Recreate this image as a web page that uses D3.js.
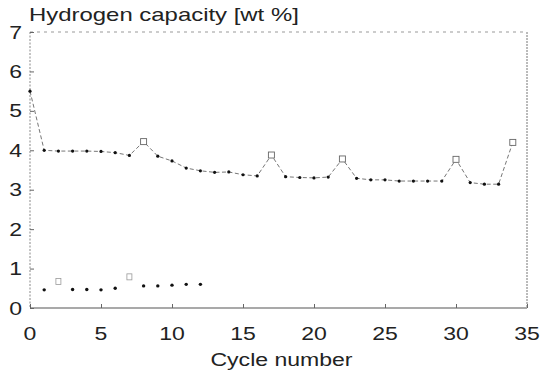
<!DOCTYPE html>
<html><head><meta charset="utf-8">
<script src="https://cdn.jsdelivr.net/npm/d3@7"></script>
<style>
html,body{margin:0;padding:0;background:#fff;}
text{font-family:"Liberation Sans",Arial,sans-serif;fill:#222;}
</style></head>
<body><svg id="c" width="548" height="372"></svg>
<script>
const cycles = d3.range(0, 35);
const capacity = [5.5, 4.0, 3.98, 3.98, 3.98, 3.97, 3.94, 3.87, 4.22, 3.85, 3.73, 3.55, 3.48, 3.44, 3.45, 3.38, 3.35, 3.88, 3.33, 3.31, 3.30, 3.32, 3.78, 3.29, 3.25, 3.25, 3.22, 3.22, 3.22, 3.22, 3.77, 3.18, 3.14, 3.14, 4.2];
const peakCycles = [8, 17, 22, 30, 34];
const lowCycles = [1, 2, 3, 4, 5, 6, 7, 8, 9, 10, 11, 12];
const lowCapacity = [0.46, 0.67, 0.47, 0.47, 0.46, 0.5, 0.79, 0.56, 0.56, 0.58, 0.6, 0.6];
const lowPeakCycles = [2, 7];
const xTicks = [0, 5, 10, 15, 20, 25, 30, 35];
const yTicks = [0, 1, 2, 3, 4, 5, 6, 7];
const yLabel = "Hydrogen capacity [wt %]";
const xLabel = "Cycle number";

const svg = d3.select("#c");
const L = 30, R = 527, T = 32, B = 308;
const x = d3.scaleLinear().domain([0, 35]).range([L, R]);
const y = d3.scaleLinear().domain([0, 7]).range([B, T]);
const SX = 1.28;

// frame
const frame = svg.append("g").attr("fill", "none");
frame.append("line").attr("x1", L).attr("x2", R).attr("y1", B).attr("y2", B).attr("stroke", "#555").attr("stroke-width", 1.1);
frame.append("line").attr("x1", L).attr("x2", L).attr("y1", T).attr("y2", B).attr("stroke", "#888").attr("stroke-dasharray", "2,1.5");
frame.append("line").attr("x1", R).attr("x2", R).attr("y1", T).attr("y2", B).attr("stroke", "#777").attr("stroke-dasharray", "2,1");
frame.append("line").attr("x1", L).attr("x2", R).attr("y1", T).attr("y2", T).attr("stroke", "#999").attr("stroke-dasharray", "3,4");

// axes (inward ticks)
const xAxis = svg.append("g").attr("transform", `translate(0,${B})`)
  .call(d3.axisBottom(x).tickValues(xTicks).tickSize(-4).tickFormat(""));
xAxis.select(".domain").remove();
xAxis.selectAll("line").attr("stroke", "#666");
const yAxis = svg.append("g").attr("transform", `translate(${L},0)`)
  .call(d3.axisLeft(y).tickValues(yTicks).tickSize(-4).tickFormat(""));
yAxis.select(".domain").remove();
yAxis.selectAll("line").attr("stroke", "#666");

// tick labels
svg.append("g").selectAll("text").data(xTicks).join("text")
  .attr("transform", d => `translate(${x(d)},340) scale(${SX},1)`)
  .attr("text-anchor", "middle").attr("font-size", 18).text(d => d);
svg.append("g").selectAll("text").data(yTicks).join("text")
  .attr("transform", d => `translate(22,${y(d) + 6.5}) scale(${SX},1)`)
  .attr("text-anchor", "end").attr("font-size", 18).text(d => d);

// axis titles
svg.append("text").attr("transform", `translate(29,21) scale(1.33,1)`)
  .attr("font-size", 18).text(yLabel);
svg.append("text").attr("transform", `translate(${(L + R) / 2 + 3},366) scale(${SX},1)`)
  .attr("text-anchor", "middle").attr("font-size", 18).text(xLabel);

// main series
const main = cycles.map((c, i) => ({c, v: capacity[i]}));
svg.append("path").datum(main)
  .attr("d", d3.line().x(d => x(d.c)).y(d => y(d.v)))
  .attr("fill", "none").attr("stroke", "#666").attr("stroke-width", 0.9).attr("stroke-dasharray", "4,2.5");
svg.append("g").selectAll("circle").data(main.filter(d => !peakCycles.includes(d.c))).join("circle")
  .attr("cx", d => x(d.c)).attr("cy", d => y(d.v)).attr("r", 1.6).attr("fill", "#111");
svg.append("g").selectAll("rect").data(main.filter(d => peakCycles.includes(d.c))).join("rect")
  .attr("x", d => x(d.c) - 3).attr("y", d => y(d.v) - 3).attr("width", 6).attr("height", 6)
  .attr("fill", "#fff").attr("stroke", "#666").attr("stroke-width", 0.9);

// low series
const low = lowCycles.map((c, i) => ({c, v: lowCapacity[i]}));
svg.append("g").selectAll("circle").data(low.filter(d => !lowPeakCycles.includes(d.c))).join("circle")
  .attr("cx", d => x(d.c)).attr("cy", d => y(d.v)).attr("r", 1.7).attr("fill", "#111");
svg.append("g").selectAll("rect").data(low.filter(d => lowPeakCycles.includes(d.c))).join("rect")
  .attr("x", d => x(d.c) - 2.5).attr("y", d => y(d.v) - 3).attr("width", 5).attr("height", 6)
  .attr("fill", "none").attr("stroke", "#999").attr("stroke-width", 0.8);
</script></body></html>
